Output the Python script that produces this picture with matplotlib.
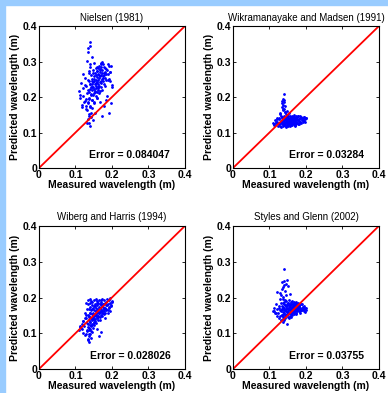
import matplotlib.pyplot as plt
from matplotlib.patches import Rectangle

# measured wavelength (m), shared by all four models
measured = [
    0.112, 0.118, 0.121, 0.125, 0.128, 0.129, 0.130, 0.131, 0.132, 0.133,
    0.134, 0.135, 0.135, 0.136, 0.136, 0.137, 0.137, 0.138, 0.138, 0.139,
    0.139, 0.140, 0.140, 0.140, 0.141, 0.141, 0.142, 0.142, 0.143, 0.143,
    0.144, 0.144, 0.145, 0.145, 0.146, 0.146, 0.147, 0.147, 0.148, 0.148,
    0.149, 0.150, 0.150, 0.151, 0.151, 0.152, 0.152, 0.153, 0.153, 0.154,
    0.154, 0.155, 0.155, 0.156, 0.156, 0.157, 0.157, 0.158, 0.158, 0.159,
    0.160, 0.160, 0.161, 0.161, 0.162, 0.162, 0.163, 0.164, 0.164, 0.165,
    0.165, 0.166, 0.167, 0.167, 0.168, 0.168, 0.169, 0.170, 0.170, 0.171,
    0.172, 0.172, 0.173, 0.174, 0.175, 0.176, 0.177, 0.178, 0.179, 0.180,
    0.181, 0.183, 0.184, 0.186, 0.188, 0.190, 0.192, 0.195, 0.198, 0.200,
    0.110, 0.113, 0.115, 0.117, 0.120, 0.122, 0.124, 0.126, 0.127, 0.130,
    0.131, 0.132, 0.133, 0.134, 0.135, 0.136, 0.137, 0.138, 0.139, 0.140,
    0.141, 0.142, 0.143, 0.144, 0.145, 0.146, 0.148, 0.150, 0.152, 0.154,
    0.156, 0.158, 0.160, 0.162, 0.164, 0.166, 0.168, 0.170, 0.172, 0.174,
    0.176, 0.178, 0.180, 0.182, 0.184, 0.185, 0.187, 0.189, 0.191, 0.193,
    0.194, 0.196, 0.197, 0.199, 0.179, 0.175, 0.171, 0.169, 0.163, 0.159,
]

nielsen = [
    0.205, 0.172, 0.265, 0.188, 0.232, 0.176, 0.195, 0.212, 0.163, 0.248,
    0.138, 0.185, 0.328, 0.152, 0.214, 0.273, 0.128, 0.246, 0.198, 0.355,
    0.222, 0.176, 0.292, 0.118, 0.236, 0.345, 0.205, 0.143, 0.262, 0.228,
    0.191, 0.312, 0.238, 0.168, 0.219, 0.252, 0.135, 0.276, 0.242, 0.207,
    0.229, 0.186, 0.258, 0.223, 0.297, 0.245, 0.212, 0.268, 0.155, 0.236,
    0.218, 0.283, 0.226, 0.249, 0.203, 0.262, 0.231, 0.274, 0.215, 0.243,
    0.256, 0.198, 0.238, 0.281, 0.226, 0.264, 0.247, 0.212, 0.289, 0.254,
    0.232, 0.271, 0.258, 0.216, 0.279, 0.243, 0.295, 0.262, 0.228, 0.285,
    0.251, 0.268, 0.147, 0.276, 0.246, 0.292, 0.262, 0.237, 0.284, 0.271,
    0.255, 0.248, 0.278, 0.202, 0.265, 0.292, 0.252, 0.272, 0.288, 0.235,
    0.218, 0.196, 0.241, 0.178, 0.226, 0.204, 0.187, 0.255, 0.233, 0.165,
    0.302, 0.128, 0.221, 0.184, 0.338, 0.148, 0.267, 0.195, 0.237, 0.173,
    0.286, 0.208, 0.154, 0.244, 0.191, 0.227, 0.268, 0.182, 0.251, 0.214,
    0.239, 0.196, 0.284, 0.229, 0.261, 0.187, 0.275, 0.245, 0.221, 0.298,
    0.258, 0.174, 0.281, 0.232, 0.265, 0.191, 0.276, 0.248, 0.155, 0.289,
    0.246, 0.271, 0.182, 0.228, 0.269, 0.254, 0.239, 0.293, 0.221, 0.274,
]

wikramanayake = [
    0.125, 0.131, 0.138, 0.142, 0.128, 0.155, 0.119, 0.146, 0.133, 0.172,
    0.124, 0.188, 0.141, 0.163, 0.118, 0.195, 0.136, 0.178, 0.127, 0.209,
    0.148, 0.132, 0.185, 0.121, 0.167, 0.139, 0.158, 0.126, 0.143, 0.175,
    0.129, 0.152, 0.137, 0.117, 0.144, 0.126, 0.161, 0.133, 0.122, 0.149,
    0.135, 0.128, 0.141, 0.119, 0.146, 0.131, 0.124, 0.138, 0.156, 0.127,
    0.133, 0.142, 0.121, 0.136, 0.129, 0.147, 0.118, 0.134, 0.139, 0.125,
    0.143, 0.131, 0.126, 0.148, 0.137, 0.122, 0.135, 0.141, 0.128, 0.132,
    0.145, 0.124, 0.138, 0.129, 0.149, 0.134, 0.127, 0.142, 0.121, 0.136,
    0.131, 0.146, 0.126, 0.139, 0.143, 0.128, 0.135, 0.148, 0.123, 0.137,
    0.132, 0.141, 0.129, 0.145, 0.136, 0.139, 0.131, 0.143, 0.137, 0.140,
    0.128, 0.122, 0.134, 0.126, 0.131, 0.142, 0.119, 0.137, 0.124, 0.151,
    0.129, 0.115, 0.145, 0.133, 0.182, 0.126, 0.166, 0.139, 0.121, 0.192,
    0.134, 0.157, 0.127, 0.143, 0.118, 0.136, 0.129, 0.148, 0.124, 0.139,
    0.131, 0.145, 0.122, 0.137, 0.128, 0.143, 0.133, 0.119, 0.141, 0.127,
    0.135, 0.148, 0.124, 0.139, 0.131, 0.146, 0.128, 0.142, 0.135, 0.138,
    0.132, 0.144, 0.129, 0.141, 0.126, 0.137, 0.133, 0.121, 0.145, 0.139,
]

wiberg = [
    0.118, 0.112, 0.135, 0.158, 0.098, 0.142, 0.186, 0.105, 0.128, 0.082,
    0.152, 0.117, 0.192, 0.091, 0.138, 0.076, 0.169, 0.108, 0.147, 0.124,
    0.185, 0.097, 0.158, 0.132, 0.113, 0.196, 0.142, 0.087, 0.165, 0.121,
    0.178, 0.136, 0.103, 0.154, 0.127, 0.188, 0.145, 0.116, 0.172, 0.139,
    0.158, 0.131, 0.193, 0.149, 0.124, 0.166, 0.141, 0.182, 0.153, 0.135,
    0.176, 0.147, 0.196, 0.161, 0.128, 0.171, 0.152, 0.189, 0.143, 0.164,
    0.157, 0.179, 0.137, 0.168, 0.185, 0.149, 0.162, 0.093, 0.174, 0.156,
    0.192, 0.168, 0.145, 0.181, 0.159, 0.172, 0.104, 0.163, 0.187, 0.151,
    0.178, 0.166, 0.195, 0.157, 0.174, 0.183, 0.161, 0.192, 0.171, 0.158,
    0.186, 0.169, 0.178, 0.196, 0.164, 0.181, 0.173, 0.199, 0.176, 0.188,
    0.108, 0.121, 0.115, 0.127, 0.102, 0.134, 0.119, 0.143, 0.096, 0.152,
    0.109, 0.168, 0.084, 0.127, 0.181, 0.098, 0.146, 0.114, 0.173, 0.131,
    0.158, 0.106, 0.189, 0.123, 0.141, 0.167, 0.152, 0.128, 0.176, 0.139,
    0.163, 0.112, 0.184, 0.145, 0.157, 0.171, 0.136, 0.193, 0.162, 0.149,
    0.181, 0.154, 0.172, 0.143, 0.188, 0.166, 0.179, 0.158, 0.194, 0.171,
    0.185, 0.163, 0.178, 0.191, 0.168, 0.156, 0.174, 0.183, 0.147, 0.161,
]

styles = [
    0.161, 0.158, 0.214, 0.172, 0.148, 0.196, 0.165, 0.138, 0.207, 0.176,
    0.152, 0.243, 0.168, 0.185, 0.132, 0.228, 0.159, 0.201, 0.146, 0.279,
    0.172, 0.188, 0.155, 0.247, 0.136, 0.166, 0.219, 0.178, 0.143, 0.192,
    0.162, 0.238, 0.175, 0.151, 0.206, 0.168, 0.182, 0.127, 0.249, 0.159,
    0.171, 0.145, 0.186, 0.163, 0.232, 0.155, 0.178, 0.167, 0.142, 0.193,
    0.174, 0.158, 0.183, 0.166, 0.211, 0.149, 0.176, 0.162, 0.187, 0.153,
    0.171, 0.181, 0.158, 0.174, 0.164, 0.189, 0.152, 0.177, 0.168, 0.183,
    0.159, 0.172, 0.186, 0.165, 0.155, 0.179, 0.169, 0.161, 0.184, 0.173,
    0.166, 0.178, 0.157, 0.188, 0.171, 0.163, 0.181, 0.174, 0.167, 0.176,
    0.179, 0.162, 0.172, 0.165, 0.183, 0.169, 0.174, 0.167, 0.171, 0.164,
    0.163, 0.171, 0.156, 0.182, 0.149, 0.168, 0.158, 0.177, 0.143, 0.213,
    0.161, 0.185, 0.152, 0.225, 0.168, 0.141, 0.197, 0.174, 0.236, 0.157,
    0.181, 0.165, 0.148, 0.191, 0.162, 0.176, 0.153, 0.185, 0.169, 0.158,
    0.178, 0.164, 0.146, 0.182, 0.171, 0.159, 0.187, 0.166, 0.175, 0.153,
    0.183, 0.168, 0.161, 0.177, 0.156, 0.172, 0.181, 0.165, 0.174, 0.168,
    0.162, 0.176, 0.159, 0.171, 0.184, 0.167, 0.173, 0.178, 0.164, 0.169,
]

titles = ['Nielsen (1981)', 'Wikramanayake and Madsen (1991)',
          'Wiberg and Harris (1994)', 'Styles and Glenn (2002)']
errors = ['0.084047', '0.03284', '0.028026', '0.03755']
predicted = [nielsen, wikramanayake, wiberg, styles]
ticks = [0, 0.1, 0.2, 0.3, 0.4]
tick_labels = ['0', '0.1', '0.2', '0.3', '0.4']

plt.rcParams['font.family'] = ['Liberation Sans', 'DejaVu Sans']

fig = plt.figure(figsize=(3.88, 3.93), dpi=100)
fig.patch.set_facecolor('white')
# light blue frame on top and left
fig.patches.append(Rectangle((0, 1 - 5 / 393), 1, 5 / 393, transform=fig.transFigure,
                             color='#99ccff', zorder=0))
fig.patches.append(Rectangle((0, 0), 5 / 388, 1, transform=fig.transFigure,
                             color='#99ccff', zorder=0))

positions = [
    [0.1005, 0.5725, 0.376, 0.361],
    [0.6005, 0.5725, 0.376, 0.361],
    [0.1005, 0.061, 0.376, 0.364],
    [0.6005, 0.061, 0.376, 0.364],
]

for i in range(4):
    ax = fig.add_axes(positions[i])
    ax.plot(measured, predicted[i], '.', color='#0000ff', markersize=2)
    ax.plot([0, 0.4], [0, 0.4], color='#ff0000', linewidth=1.3)
    ax.set_xlim(0, 0.4)
    ax.set_ylim(0, 0.4)
    ax.set_xticks(ticks)
    ax.set_yticks(ticks)
    ax.set_xticklabels(tick_labels, fontsize=7.5, fontweight='bold')
    ax.set_yticklabels(tick_labels, fontsize=7.5, fontweight='bold')
    ax.tick_params(direction='in', length=2.5, width=0.6, top=True, right=True, pad=1.5)
    for s in ax.spines.values():
        s.set_linewidth(0.8)
    ax.set_title(titles[i], fontsize=7, pad=4)
    ax.set_xlabel('Measured wavelength (m)', fontsize=7.5, fontweight='bold', labelpad=0)
    ax.set_ylabel('Predicted wavelength (m)', fontsize=7.5, fontweight='bold', labelpad=2)
    ax.text(0.36, 0.036, 'Error = ' + errors[i], fontsize=7.5, fontweight='bold',
            ha='right', va='center')

fig.savefig('out.png', dpi=100)
